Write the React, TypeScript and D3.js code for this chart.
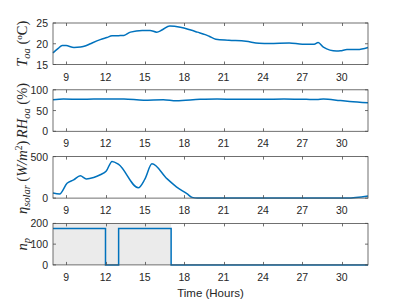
import * as d3 from "d3";
import { useEffect, useRef } from "react";

// температура наружного воздуха
const tempHours = [8.0, 8.4, 8.7, 9.0, 9.6, 10.1, 10.5, 10.85, 11.6, 12.1, 12.5, 13.0, 13.4, 13.9, 14.8, 15.4, 15.9, 16.3, 16.9, 17.7, 18.5, 19.0, 19.6, 19.9, 20.4, 21.4, 22.7, 23.7, 24.5, 26.0, 27.0, 27.9, 28.2, 28.6, 29.6, 29.9, 30.4, 31.2, 32.0];
const tempValues = [17.8, 18.9, 19.6, 19.55, 19.1, 19.2, 19.5, 20.0, 21.0, 21.5, 21.9, 21.95, 22.0, 22.8, 23.2, 23.2, 22.8, 23.3, 24.3, 24.0, 23.3, 22.8, 22.2, 21.8, 21.1, 20.85, 20.6, 20.1, 20.05, 20.2, 19.9, 19.9, 20.3, 19.2, 18.25, 18.3, 18.6, 18.6, 19.1];

// влажность
const rhHours = [8.0, 8.8, 10.1, 11.1, 13.4, 14.9, 16.4, 17.4, 19.2, 20.5, 22.0, 24.0, 25.6, 27.3, 28.1, 28.6, 29.9, 30.6, 32.0];
const rhValues = [76, 78, 77, 78, 78, 75, 76, 73.5, 77, 78, 77, 77, 78, 77, 76.5, 78, 74, 72, 69];

// солнечная радиация
const solarHours = [8.0, 8.5, 9.07, 9.57, 10.08, 10.54, 11.1, 11.6, 12.06, 12.5, 13.0, 14.5, 15.0, 15.54, 16.7, 17.4, 18.2, 18.6, 19.0, 30.4, 32.0];
const solarValues = [62, 50, 178, 219, 269, 231, 248, 281, 326, 442, 405, 124, 228, 413, 231, 136, 54, 9, 0, 0, 25];

// число людей (ступенчатый график)
const pumpHours = [8, 12, 13, 17, 32];
const pumpValues = [175, 0, 175, 0, 0];
const occupiedRange = [8, 17];

const xTicks = [9, 12, 15, 18, 21, 24, 27, 30];

const panels = [
    { x: tempHours, y: tempValues, domain: [15, 25], ticks: [15, 20, 25], label: "T", sub: "oa", tail: "temp", step: false },
    { x: rhHours, y: rhValues, domain: [0, 100], ticks: [0, 50, 100], label: "RH", sub: "oa", tail: "rh", step: false },
    { x: solarHours, y: solarValues, domain: [0, 500], ticks: [0, 500], label: "η", sub: "solar", tail: "solar", step: false },
    { x: pumpHours, y: pumpValues, domain: [0, 200], ticks: [0, 100, 200], label: "n", sub: "p", tail: "", step: true }
];

const App = () => {
    const ref = useRef(null);

    const width = 407;
    const height = 305;
    const left = 53;
    const right = 368;
    const panelH = 41.5;
    const panelStep = 66.8;
    const firstTop = 23;

    useEffect(() => {
        const svg = d3.select(ref.current);
        svg.selectAll("*").remove();

        const scaleX = d3.scaleLinear().domain([8, 32]).range([left, right]);
        const axisColor = "#4d4d4d";
        const textColor = "#262626";

        panels.forEach((p, i) => {
            const top = firstTop + i * panelStep;
            const bottom = top + panelH;
            const scaleY = d3.scaleLinear().domain(p.domain).range([bottom, top]);
            const g = svg.append("g");

            // серая область занятости
            if (p.step) {
                g.append("rect")
                    .attr("x", scaleX(occupiedRange[0]))
                    .attr("y", top)
                    .attr("width", scaleX(occupiedRange[1]) - scaleX(occupiedRange[0]))
                    .attr("height", panelH)
                    .style("fill", "#ebebeb");
            }

            const line = d3.line()
                .x((d, j) => scaleX(p.x[j]))
                .y((d) => scaleY(d))
                .curve(p.step ? d3.curveStepAfter : d3.curveMonotoneX);

            g.append("path")
                .attr("d", line(p.y))
                .style("fill", "none")
                .style("stroke", "#0072bd")
                .style("stroke-width", 1.5);

            // рамка
            g.append("rect")
                .attr("x", left)
                .attr("y", top)
                .attr("width", right - left)
                .attr("height", panelH)
                .style("fill", "none")
                .style("stroke", axisColor)
                .style("stroke-width", 0.8);

            // деления по X
            xTicks.forEach(t => {
                const x = Math.round(scaleX(t)) + 0.5;
                g.append("line").attr("x1", x).attr("x2", x).attr("y1", bottom).attr("y2", bottom - 3)
                    .style("stroke", axisColor).style("stroke-width", 0.8);
                g.append("line").attr("x1", x).attr("x2", x).attr("y1", top).attr("y2", top + 3)
                    .style("stroke", axisColor).style("stroke-width", 0.8);
                g.append("text")
                    .attr("x", scaleX(t))
                    .attr("y", bottom + 16)
                    .attr("text-anchor", "middle")
                    .style("font-family", "Liberation Sans, Arial, sans-serif")
                    .style("font-size", "10.5px")
                    .style("fill", textColor)
                    .text(t);
            });

            // деления по Y
            p.ticks.forEach(t => {
                const y = scaleY(t);
                g.append("line").attr("x1", left).attr("x2", left + 3).attr("y1", y).attr("y2", y)
                    .style("stroke", axisColor).style("stroke-width", 0.8);
                g.append("line").attr("x1", right).attr("x2", right - 3).attr("y1", y).attr("y2", y)
                    .style("stroke", axisColor).style("stroke-width", 0.8);
                g.append("text")
                    .attr("x", left - 5)
                    .attr("y", y + 4)
                    .attr("text-anchor", "end")
                    .style("font-family", "Liberation Sans, Arial, sans-serif")
                    .style("font-size", "10.5px")
                    .style("fill", textColor)
                    .text(t);
            });

            // подпись оси Y
            const cy = (top + bottom) / 2;
            const lab = g.append("text")
                .attr("transform", `translate(27, ${cy}) rotate(-90)`)
                .attr("text-anchor", "middle")
                .style("font-family", "Liberation Serif, Times New Roman, serif")
                .style("font-size", "14.5px")
                .style("fill", textColor);
            lab.append("tspan").style("font-style", "italic").text(p.label);
            lab.append("tspan").style("font-style", "italic").style("font-size", "10.5px").attr("dy", 3).text(p.sub);
            if (p.tail === "temp") {
                lab.append("tspan").attr("dy", -3).text(" (");
                lab.append("tspan").style("font-size", "9px").attr("dy", -5).text("o");
                lab.append("tspan").attr("dy", 5).text("C)");
            } else if (p.tail === "rh") {
                lab.append("tspan").attr("dy", -3).text(" (%)");
            } else if (p.tail === "solar") {
                lab.append("tspan").attr("dy", -3).text(" (");
                lab.append("tspan").style("font-style", "italic").text("W/m");
                lab.append("tspan").style("font-size", "9.5px").attr("dy", -5).text("2");
                lab.append("tspan").attr("dy", 5).text(")");
            }
        });

        // подпись оси X
        svg.append("text")
            .attr("x", (left + right) / 2)
            .attr("y", 297)
            .attr("text-anchor", "middle")
            .style("font-family", "Liberation Sans, Arial, sans-serif")
            .style("font-size", "11.5px")
            .style("fill", textColor)
            .text("Time (Hours)");
    }, []);

    return (
        <svg ref={ref} width={width} height={height}
            style={{ position: "absolute", left: 0, top: 0, background: "#fff" }}> </svg>
    );
};

export default App;
